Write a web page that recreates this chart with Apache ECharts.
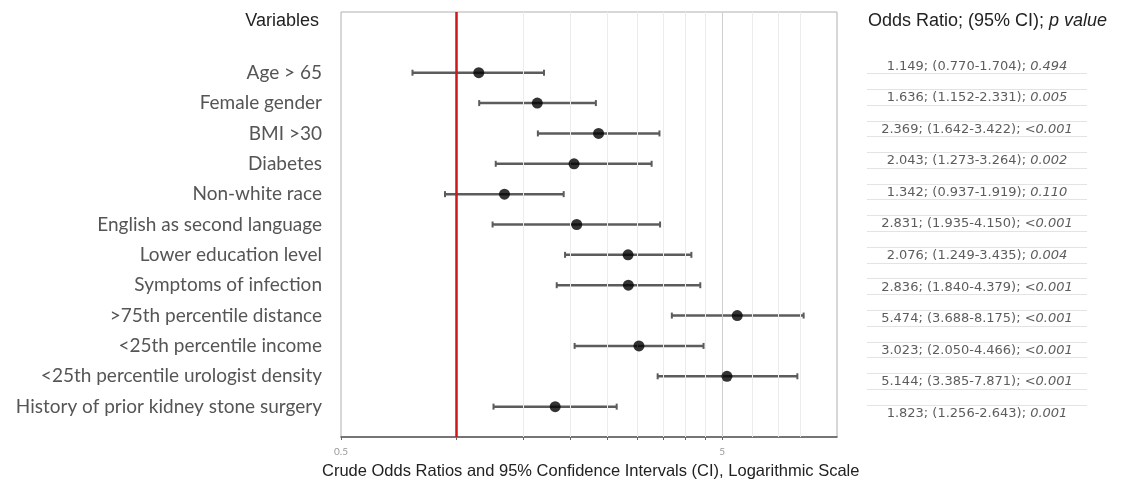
<!DOCTYPE html>
<html>
<head>
<meta charset="utf-8">
<script src="https://cdn.jsdelivr.net/npm/echarts@6/dist/echarts.min.js"></script>
<style>
html,body{margin:0;padding:0;background:#fff;}
#chart{width:1130px;height:492px;}
</style>
</head>
<body>
<div id="chart"></div>
<script>
// Row labels (top to bottom)
const variables = [
  'Age > 65',
  'Female gender',
  'BMI >30',
  'Diabetes',
  'Non-white race',
  'English as second language',
  'Lower education level',
  'Symptoms of infection',
  '>75th percentile distance',
  '<25th percentile income',
  '<25th percentile urologist density',
  'History of prior kidney stone surgery'
];
// Values printed in the right-hand table
const tableOR   = [1.149, 1.636, 2.369, 2.043, 1.342, 2.831, 2.076, 2.836, 5.474, 3.023, 5.144, 1.823];
const tableLow  = [0.770, 1.152, 1.642, 1.273, 0.937, 1.935, 1.249, 1.840, 3.688, 2.050, 3.385, 1.256];
const tableHigh = [1.704, 2.331, 3.422, 3.264, 1.919, 4.150, 3.435, 4.379, 8.175, 4.466, 7.871, 2.643];
const pValues   = ['0.494', '0.005', '<0.001', '0.002', '0.110', '<0.001', '0.004', '<0.001', '<0.001', '<0.001', '<0.001', '0.001'];
// Values as drawn in the plot (rows 6 and 7 are drawn swapped in the original figure)
const plotOR    = [1.149, 1.636, 2.369, 2.043, 1.342, 2.076, 2.831, 2.836, 5.474, 3.023, 5.144, 1.823];
const plotLow   = [0.770, 1.152, 1.642, 1.273, 0.937, 1.249, 1.935, 1.840, 3.688, 2.050, 3.385, 1.256];
const plotHigh  = [1.704, 2.331, 3.422, 3.264, 1.919, 3.435, 4.150, 4.379, 8.175, 4.466, 7.871, 2.643];
const xTickLabels = [0.5, 5];
const xMinorTicks = [1, 1.5, 2, 2.5, 3, 3.5, 4, 4.5];
const xGridMinor = [1.5, 2, 2.5, 3, 3.5, 4, 4.5, 6, 7, 8];
const xGridMajor = [5];
const refValue = 1;

const rowIdx = variables.map((_, i) => i + 1);
const pointData = plotOR.map((v, i) => [v, rowIdx[i]]);
const barData = plotLow.map((lo, i) => [lo, rowIdx[i], plotHigh[i]]);
const tableData = rowIdx.map(r => [0.5, r]);
const tableLines = [];
rowIdx.forEach((r, i) => {
  if (i > 0) tableLines.push({ yAxis: r - 0.27 });
  if (i < rowIdx.length - 1) tableLines.push({ yAxis: r + 0.23 });
});

const chart = echarts.init(document.getElementById('chart'));
const catFont = 'Lato, "Open Sans", sans-serif';
const tabFont = '"DejaVu Sans", sans-serif';
const arial = '"Liberation Sans", Arial, sans-serif';

chart.setOption({
  animation: false,
  backgroundColor: '#ffffff',
  title: [
    { text: 'Variables', right: 806, top: 7, textStyle: { fontFamily: arial, fontSize: 18, fontWeight: 'normal', color: '#222' } },
    { text: '{a|Odds Ratio; (95% CI); }{b|p value}', left: 863, top: 7,
      textStyle: { fontWeight: 'normal', rich: {
        a: { fontFamily: arial, fontSize: 18, fontWeight: 'normal', color: '#222' },
        b: { fontFamily: arial, fontSize: 18, fontWeight: 'normal', color: '#222', fontStyle: 'italic' }
      } } },
    { text: 'Crude Odds Ratios and 95% Confidence Intervals (CI), Logarithmic Scale', left: 317, top: 458,
      textStyle: { fontFamily: arial, fontSize: 16.5, fontWeight: 'normal', color: '#222' } }
  ],
  grid: [
    { left: 341, right: 293, top: 12, bottom: 55, show: true, borderColor: '#b0b0b0', borderWidth: 1, containLabel: false },
    { left: 867, width: 220, top: 3, bottom: 47, show: false }
  ],
  xAxis: [
    { type: 'log', logBase: 10, min: 0.5, max: 10, gridIndex: 0,
      axisLine: { show: true, onZero: false, lineStyle: { color: '#555', width: 1.5 } },
      axisTick: { show: true, customValues: [0.5].concat(xMinorTicks, [5]), length: 3, lineStyle: { color: '#666' } },
      axisLabel: { show: true, customValues: xTickLabels, color: '#999', fontSize: 10, margin: 10, fontFamily: catFont, formatter: v => String(v) },
      splitLine: { show: false }, minorTick: { show: false } },
    { type: 'value', min: 0, max: 1, gridIndex: 1, show: false }
  ],
  yAxis: [
    { type: 'value', inverse: true, min: -1, max: 13, interval: 1, gridIndex: 0,
      axisLine: { show: false }, axisTick: { show: false }, splitLine: { show: false },
      axisLabel: { color: '#555', fontFamily: catFont, fontSize: 19, margin: 19,
        formatter: v => (v >= 1 && v <= variables.length && Number.isInteger(v)) ? variables[v - 1] : '' } },
    { type: 'value', inverse: true, min: -1, max: 13, gridIndex: 1, show: false }
  ],
  series: [
    {
      type: 'custom', xAxisIndex: 0, yAxisIndex: 0, silent: true,
      encode: { x: [0, 2], y: 1 },
      data: barData,
      renderItem: function (params, api) {
        const y = api.value(1);
        const a = api.coord([api.value(0), y]);
        const b = api.coord([api.value(2), y]);
        const h = 3;
        const st = { stroke: '#5c5c5c', lineWidth: 2.5 };
        return { type: 'group', children: [
          { type: 'line', shape: { x1: a[0], y1: a[1], x2: b[0], y2: b[1] }, style: st },
          { type: 'line', shape: { x1: a[0], y1: a[1] - h, x2: a[0], y2: a[1] + h }, style: { stroke: '#5c5c5c', lineWidth: 2 } },
          { type: 'line', shape: { x1: b[0], y1: b[1] - h, x2: b[0], y2: b[1] + h }, style: { stroke: '#5c5c5c', lineWidth: 2 } }
        ] };
      },
      markLine: {
        silent: true, symbol: 'none', label: { show: false },
        data: xGridMinor.map(v => ({ xAxis: v, lineStyle: { color: '#ececec', width: 1, type: 'solid' } }))
          .concat(xGridMajor.map(v => ({ xAxis: v, lineStyle: { color: '#cfcfcf', width: 1, type: 'solid' } })))
      },
      z: 3
    },
    {
      type: 'scatter', xAxisIndex: 0, yAxisIndex: 0, silent: true,
      data: pointData, symbol: 'circle', symbolSize: 11,
      itemStyle: { color: '#000' },
      markLine: {
        silent: true, symbol: 'none', label: { show: false },
        data: [{ xAxis: refValue }],
        lineStyle: { color: '#d0161b', width: 2.5, type: 'solid' }
      },
      z: 5
    },
    {
      type: 'scatter', xAxisIndex: 1, yAxisIndex: 1, silent: true,
      data: tableData, symbolSize: 0,
      label: {
        show: true, position: 'inside',
        formatter: p => {
          const i = p.dataIndex;
          return '{a|' + tableOR[i].toFixed(3) + '; (' + tableLow[i].toFixed(3) + '-' + tableHigh[i].toFixed(3) + '); }{b|' + pValues[i] + '}';
        },
        rich: {
          a: { fontFamily: tabFont, fontSize: 13, color: '#333' },
          b: { fontFamily: tabFont, fontSize: 13, color: '#333', fontStyle: 'italic' }
        }
      },
      markLine: {
        silent: true, symbol: 'none', label: { show: false },
        data: tableLines,
        lineStyle: { color: '#e3e3e3', width: 1, type: 'solid' }
      }
    }
  ]
});
</script>
</body>
</html>
